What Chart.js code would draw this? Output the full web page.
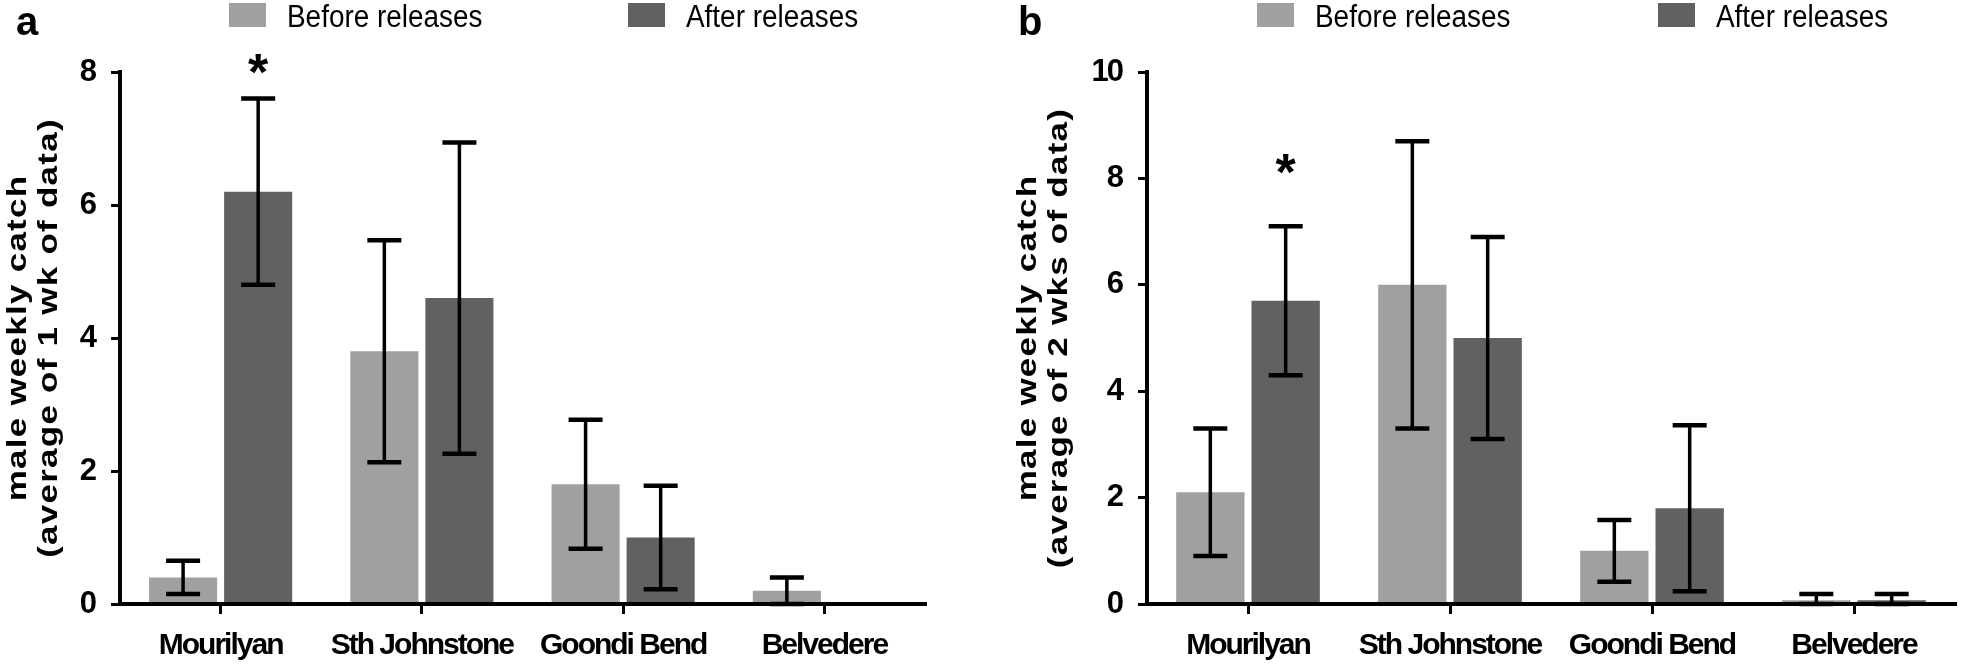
<!DOCTYPE html>
<html>
<head>
<meta charset="utf-8">
<script src="https://cdn.jsdelivr.net/npm/chart.js@4.4.1/dist/chart.umd.min.js"></script>
<style>
  html, body { margin: 0; padding: 0; background: #fff; }
  #wrap { position: relative; width: 1961px; height: 665px; overflow: hidden; }
  .panel { position: absolute; top: 0; height: 665px; }
  #panelA { left: 0; width: 980px; }
  #panelB { left: 980px; width: 981px; }
</style>
</head>
<body>
<div id="wrap">
  <div class="panel" id="panelA"><canvas id="chartA" width="980" height="665"></canvas></div>
  <div class="panel" id="panelB"><canvas id="chartB" width="981" height="665"></canvas></div>
</div>
<script>
const sites = ["Mourilyan", "Sth Johnstone", "Goondi Bend", "Belvedere"];
const seriesNames = ["Before releases", "After releases"];

// panel a - average of 1 wk of data
const beforeA = [0.4, 3.8, 1.8, 0.2];
const afterA = [6.2, 4.6, 1.0, 0];
const beforeErrA = [0.25, 1.67, 0.97, 0.2];
const afterErrA = [1.4, 2.34, 0.78, 0];
const starA = [7.95, null, null, null];   // "*" over the after bar
const ticksA = [0, 2, 4, 6, 8];
const titleA = ["male weekly catch", "(average of 1 wk of data)"];

// panel b - average of 2 wks of data
const beforeB = [2.1, 6.0, 1.0, 0.07];
const afterB = [5.7, 5.0, 1.8, 0.07];
const beforeErrB = [1.2, 2.7, 0.58, 0.12];
const afterErrB = [1.4, 1.9, 1.56, 0.12];
const starB = [8.05, null, null, null];
const ticksB = [0, 2, 4, 6, 8, 10];
const titleB = ["male weekly catch", "(average of 2 wks of data)"];

const BEFORE_COLOR = "#a0a0a0";
const AFTER_COLOR = "#616161";
const FONT = '"Liberation Sans", Arial, sans-serif';

// the original figure is squeezed sideways, so tighten the tick text
const squeeze = {
  id: "squeeze",
  beforeDraw(chart) { chart.ctx.letterSpacing = "-2px"; }
};

// error bars + significance star
const errorBars = {
  id: "errorBars",
  afterDatasetsDraw(chart) {
    const ctx = chart.ctx, y = chart.scales.y;
    ctx.save();
    ctx.letterSpacing = "0px";
    ctx.strokeStyle = "#000";
    ctx.fillStyle = "#000";
    chart.data.datasets.forEach((ds, i) => {
      const meta = chart.getDatasetMeta(i);
      meta.data.forEach((bar, j) => {
        const v = ds.data[j], e = ds.errors[j];
        if (e) {
          const top = y.getPixelForValue(v + e);
          const bot = y.getPixelForValue(Math.max(0, v - e));
          ctx.lineWidth = 3.5;
          ctx.beginPath();
          ctx.moveTo(bar.x, top);
          ctx.lineTo(bar.x, bot);
          ctx.stroke();
          ctx.lineWidth = 4.5;
          ctx.beginPath();
          ctx.moveTo(bar.x - 17, top); ctx.lineTo(bar.x + 17, top);
          ctx.moveTo(bar.x - 17, bot); ctx.lineTo(bar.x + 17, bot);
          ctx.stroke();
        }
        if (ds.stars && ds.stars[j] != null) {
          ctx.font = "bold 52px " + FONT;
          ctx.textAlign = "center";
          ctx.textBaseline = "middle";
          ctx.fillText("*", bar.x, y.getPixelForValue(ds.stars[j]));
        }
      });
    });
    ctx.restore();
  }
};

// panel letter, legend and the y axis title
const panelDecor = {
  id: "panelDecor",
  afterDraw(chart, args, opts) {
    const ctx = chart.ctx, area = chart.chartArea;
    ctx.save();
    ctx.letterSpacing = "0px";
    ctx.fillStyle = "#000";
    ctx.textBaseline = "alphabetic";
    ctx.font = "bold 40px " + FONT;
    ctx.fillText(opts.letter, opts.letterX, 35);

    chart.data.datasets.forEach((ds, i) => {
      const x = opts.legendX[i];
      ctx.fillStyle = ds.backgroundColor;
      ctx.fillRect(x, 3, 37, 24);
      ctx.fillStyle = "#000";
      ctx.font = "31px " + FONT;
      ctx.save();
      ctx.translate(x + 58, 27);
      ctx.scale(0.9, 1);
      ctx.fillText(ds.label, 0, 0);
      ctx.restore();
    });

    const cy = (area.top + area.bottom) / 2;
    ctx.font = "bold 28px " + FONT;
    ctx.letterSpacing = "1px";
    ctx.textAlign = "center";
    ctx.textBaseline = "middle";
    opts.title.forEach((line, i) => {
      ctx.save();
      ctx.translate(opts.titleX + i * 31, cy);
      ctx.rotate(-Math.PI / 2);
      ctx.scale(1.25, 1);
      ctx.fillText(line, 0, 0);
      ctx.restore();
    });
    ctx.restore();
  }
};

function makeChart(id, c) {
  return new Chart(document.getElementById(id), {
    type: "bar",
    data: {
      labels: sites,
      datasets: [
        { label: seriesNames[0], data: c.before, errors: c.beforeErr, backgroundColor: BEFORE_COLOR },
        { label: seriesNames[1], data: c.after, errors: c.afterErr, stars: c.star, backgroundColor: AFTER_COLOR }
      ]
    },
    options: {
      responsive: false,
      animation: false,
      devicePixelRatio: 1,
      categoryPercentage: 0.746,
      barPercentage: 0.907,
      layout: { padding: { top: 72, right: c.padRight, bottom: 0, left: 0 } },
      plugins: {
        legend: { display: false },
        tooltip: { enabled: false },
        panelDecor: { letter: c.letter, letterX: c.letterX, legendX: c.legendX, title: c.title, titleX: c.titleX }
      },
      scales: {
        x: {
          grid: { display: true, drawOnChartArea: false, offset: false, color: "#000", lineWidth: 3, tickLength: 10 },
          border: { display: true, color: "#000", width: 4, z: 1 },
          ticks: { color: "#000", padding: 14, autoSkip: false, maxRotation: 0, font: { family: FONT, size: 30, weight: "bold" } },
          afterFit: s => { s.height = 61; }
        },
        y: {
          min: 0,
          max: c.ticks[c.ticks.length - 1],
          afterBuildTicks: s => { s.ticks = c.ticks.map(v => ({ value: v })); },
          grid: { display: true, drawOnChartArea: false, color: "#000", lineWidth: 3, tickLength: 9 },
          border: { display: true, color: "#000", width: 4, z: 1 },
          ticks: { color: "#000", padding: 16, font: { family: FONT, size: 31, weight: "bold" } },
          afterFit: s => { s.width = c.axisX; }
        }
      }
    },
    plugins: [squeeze, errorBars, panelDecor]
  });
}

makeChart("chartA", {
  before: beforeA, after: afterA, beforeErr: beforeErrA, afterErr: afterErrA, star: starA, ticks: ticksA,
  title: titleA, titleX: 18,
  letter: "a", letterX: 16, legendX: [229, 628],
  axisX: 120, padRight: 55
});

makeChart("chartB", {
  before: beforeB, after: afterB, beforeErr: beforeErrB, afterErr: afterErrB, star: starB, ticks: ticksB,
  title: titleB, titleX: 48,
  letter: "b", letterX: 38, legendX: [277, 678],
  axisX: 167, padRight: 6
});
</script>
</body>
</html>
